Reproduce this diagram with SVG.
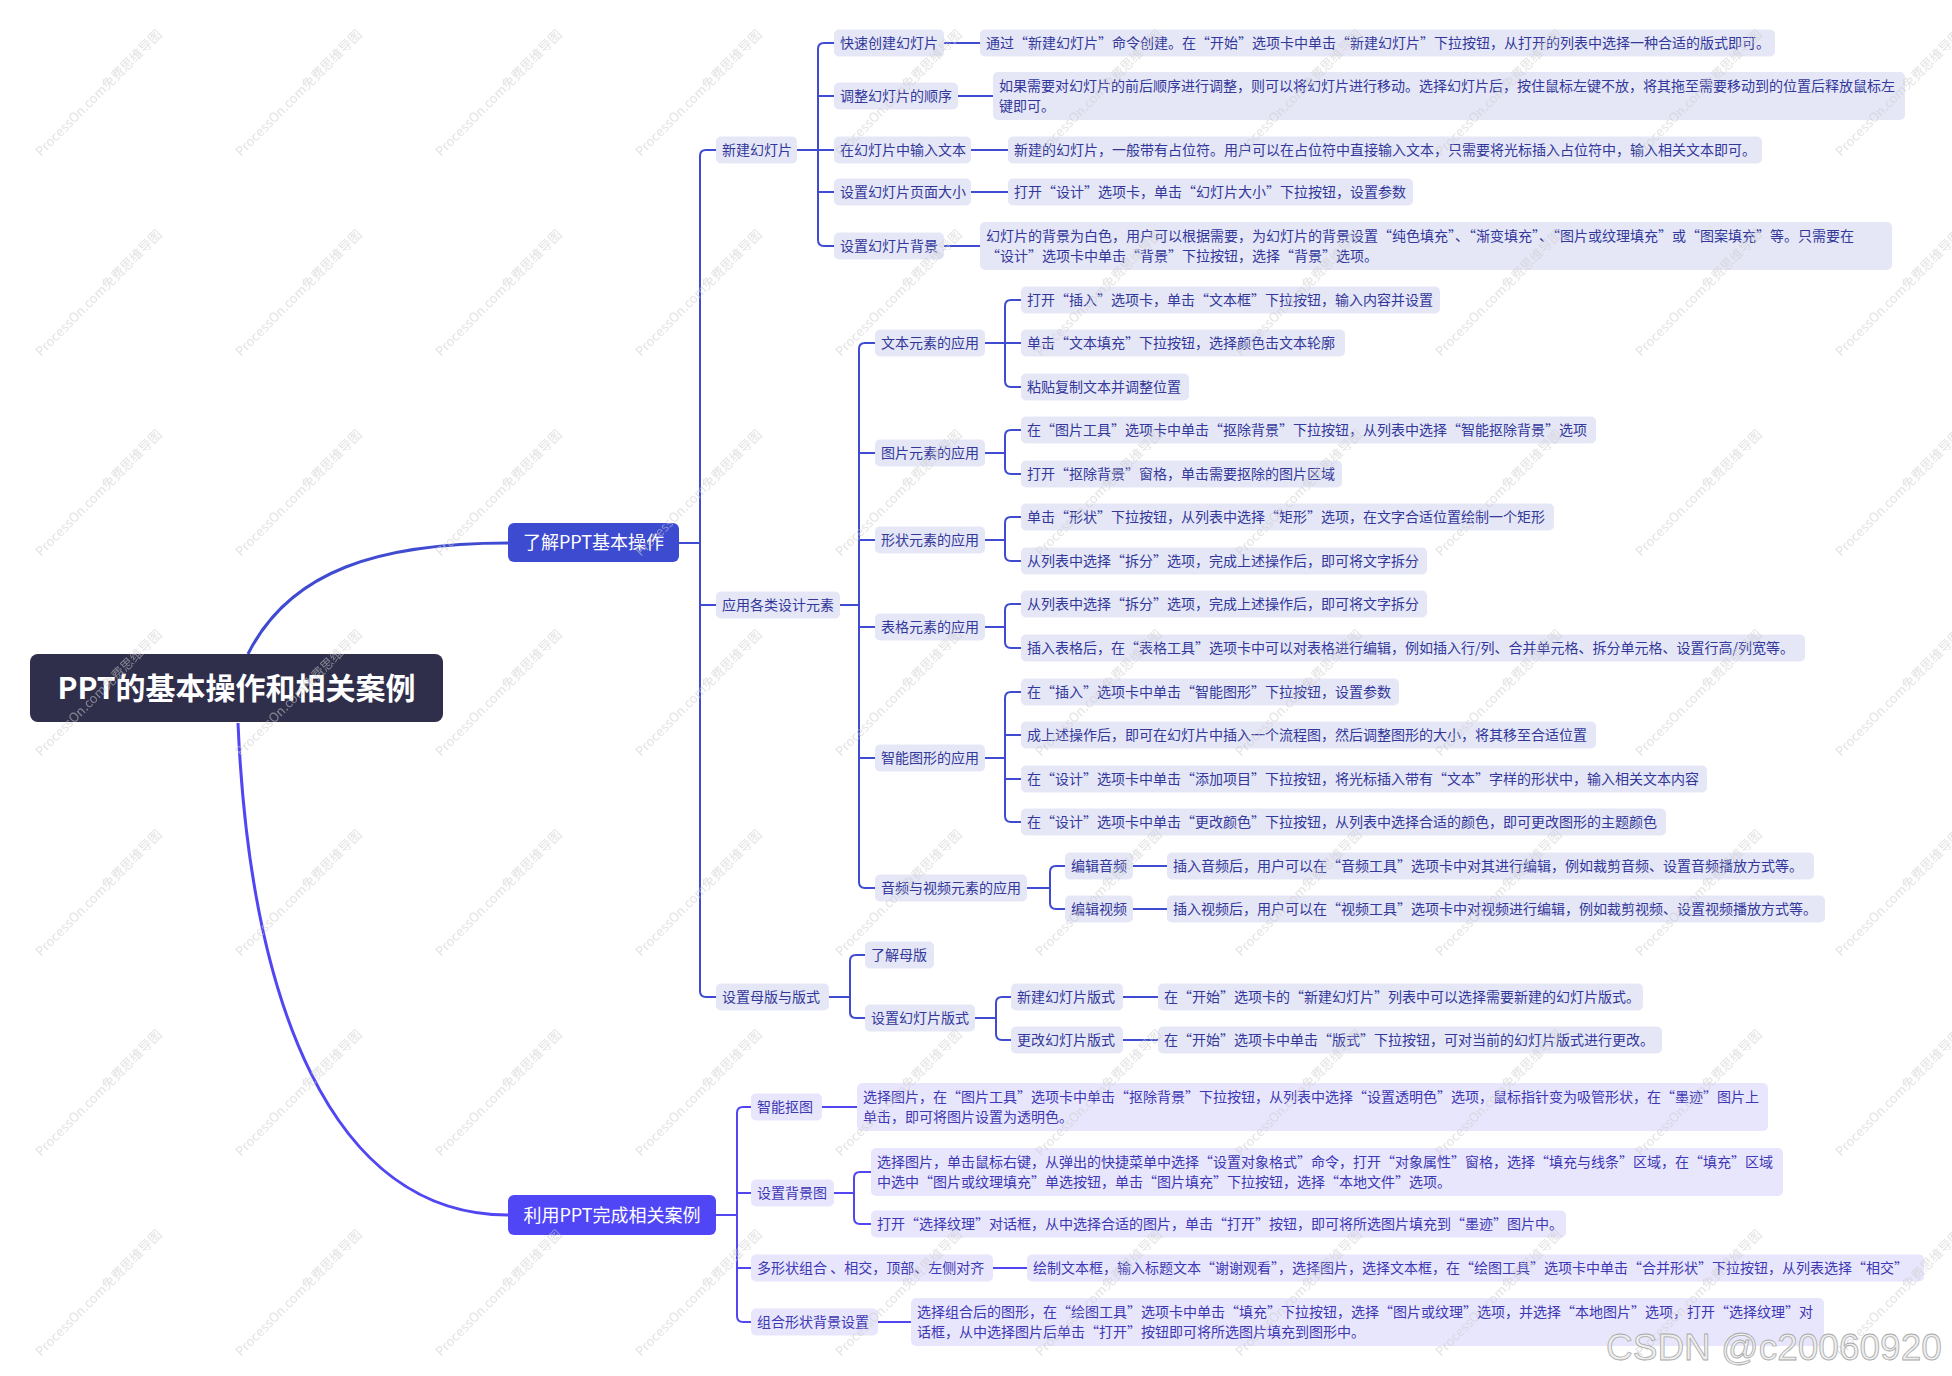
<svg xmlns="http://www.w3.org/2000/svg" width="1952" height="1376" viewBox="0 0 1952 1376">
<style>
text{font-family:"Noto Sans CJK SC","Noto Sans",sans-serif}
.a rect{fill:#e5e7f7}
.b rect{fill:#e8e6fc}
.a text{font-size:14px;fill:#33379a}
.b text{font-size:14px;fill:#3d37b4}
.c1{fill:none;stroke:#3f4bd0;stroke-width:2}
.c2{fill:none;stroke:#5146f2;stroke-width:2}
.wm{font-size:13px;fill:#c9c9c9;fill-opacity:0.55}
.mt{font-size:18px;fill:#ffffff}
</style>
<defs>
<pattern id="wmp" width="200" height="200" patternUnits="userSpaceOnUse">
<text class="wm" x="41" y="157" transform="rotate(-45 41 157)">ProcessOn.com免费思维导图</text>
</pattern>
</defs>
<rect width="1952" height="1376" fill="#ffffff"/>

<g id="connectors">
<path class="c1" style="stroke-width:3" d="M248,654 C290,570 380,543 508,543"/>
<path class="c2" style="stroke-width:3" d="M238,723 C250,1000 330,1215 508,1215"/>
<path class="c1" d="M679,543 H700 M716,150 H706 Q700,150 700,156 V991 Q700,997 706,997 H716 M700,605 H716"/>
<path class="c1" d="M797,150 H818 M834,43 H824 Q818,43 818,49 V240 Q818,246 824,246 H834 M818,96 H834 M818,150 H834 M818,192 H834"/>
<path class="c1" d="M944,43 H980 M958,96 H993 M971,150 H1008 M971,192 H1008 M944,246 H980"/>
<path class="c1" d="M840,605 H859 M875,343 H865 Q859,343 859,349 V882 Q859,888 865,888 H875 M859,453 H875 M859,540 H875 M859,627 H875 M859,758 H875"/>
<path class="c1" d="M985,343 H1005 M1021,300 H1011 Q1005,300 1005,306 V381 Q1005,387 1011,387 H1021 M1005,343 H1021"/>
<path class="c1" d="M985,453 H1005 M1021,430 H1011 Q1005,430 1005,436 V468 Q1005,474 1011,474 H1021"/>
<path class="c1" d="M985,540 H1005 M1021,517 H1011 Q1005,517 1005,523 V555 Q1005,561 1011,561 H1021"/>
<path class="c1" d="M985,627 H1005 M1021,604 H1011 Q1005,604 1005,610 V642 Q1005,648 1011,648 H1021"/>
<path class="c1" d="M985,758 H1005 M1021,692 H1011 Q1005,692 1005,698 V816 Q1005,822 1011,822 H1021 M1005,735 H1021 M1005,779 H1021"/>
<path class="c1" d="M1027,888 H1050 M1065,866 H1056 Q1050,866 1050,872 V903 Q1050,909 1056,909 H1065 M1133,866 H1167 M1133,909 H1167"/>
<path class="c1" d="M829,997 H850 M865,955 H856 Q850,955 850,961 V1012 Q850,1018 856,1018 H865"/>
<path class="c1" d="M975,1018 H996 M1011,997 H1002 Q996,997 996,1003 V1034 Q996,1040 1002,1040 H1011 M1123,997 H1158 M1123,1040 H1158"/>
<path class="c2" d="M716,1215 H737 M751,1107 H743 Q737,1107 737,1113 V1316 Q737,1322 743,1322 H751 M737,1193 H751 M737,1268 H751"/>
<path class="c2" d="M822,1107 H857 M834,1193 H854 M871,1172 H860 Q854,1172 854,1178 V1218 Q854,1224 860,1224 H871 M993,1268 H1027 M878,1322 H911"/>
</g>

<g id="root"><rect x="30" y="654" width="413" height="68" rx="8" fill="#2f2e4b"/><text x="236.5" y="699" text-anchor="middle" style="font-size:30px;font-weight:700;fill:#ffffff">PPT的基本操作和相关案例</text></g>
<g id="b1"><rect x="508" y="523" width="171" height="39" rx="6" fill="#3d4bd0"/><text class="mt" x="593.5" y="549" text-anchor="middle">了解PPT基本操作</text></g>
<g id="b2"><rect x="508" y="1195" width="208" height="40" rx="6" fill="#5046f5"/><text class="mt" x="612" y="1221.5" text-anchor="middle">利用PPT完成相关案例</text></g>

<g class="a">
<g id="n1"><rect x="716" y="136.5" width="81" height="27" rx="5"/><text x="722" y="155">新建幻灯片</text></g>
<g id="n2"><rect x="716" y="591.5" width="124" height="27" rx="5"/><text x="722" y="610">应用各类设计元素</text></g>
<g id="n3"><rect x="716" y="983.5" width="113" height="27" rx="5"/><text x="722" y="1002">设置母版与版式</text></g>

<g id="n1a"><rect x="834" y="29.5" width="110" height="27" rx="5"/><text x="840" y="48">快速创建幻灯片</text></g>
<g id="n1a-t"><rect x="980" y="29.5" width="795" height="27" rx="5"/><text x="986" y="48">通过“新建幻灯片”命令创建。在“开始”选项卡中单击“新建幻灯片”下拉按钮，从打开的列表中选择一种合适的版式即可。</text></g>
<g id="n1b"><rect x="834" y="82.5" width="124" height="27" rx="5"/><text x="840" y="101">调整幻灯片的顺序</text></g>
<g id="n1b-t"><rect x="993" y="72" width="912" height="48" rx="5"/><text x="999" y="91">如果需要对幻灯片的前后顺序进行调整，则可以将幻灯片进行移动。选择幻灯片后，按住鼠标左键不放，将其拖至需要移动到的位置后释放鼠标左</text><text x="999" y="111">键即可。</text></g>
<g id="n1c"><rect x="834" y="136.5" width="137" height="27" rx="5"/><text x="840" y="155">在幻灯片中输入文本</text></g>
<g id="n1c-t"><rect x="1008" y="136.5" width="754" height="27" rx="5"/><text x="1014" y="155">新建的幻灯片，一般带有占位符。用户可以在占位符中直接输入文本，只需要将光标插入占位符中，输入相关文本即可。</text></g>
<g id="n1d"><rect x="834" y="178.5" width="137" height="27" rx="5"/><text x="840" y="197">设置幻灯片页面大小</text></g>
<g id="n1d-t"><rect x="1008" y="178.5" width="405" height="27" rx="5"/><text x="1014" y="197">打开“设计”选项卡，单击“幻灯片大小”下拉按钮，设置参数</text></g>
<g id="n1e"><rect x="834" y="232.5" width="110" height="27" rx="5"/><text x="840" y="251">设置幻灯片背景</text></g>
<g id="n1e-t"><rect x="980" y="222" width="912" height="48" rx="5"/><text x="986" y="241">幻灯片的背景为白色，用户可以根据需要，为幻灯片的背景设置“纯色填充”、“渐变填充”、“图片或纹理填充”或“图案填充”等。只需要在</text><text x="986" y="261">“设计”选项卡中单击“背景”下拉按钮，选择“背景”选项。</text></g>

<g id="n2a"><rect x="875" y="329.5" width="110" height="27" rx="5"/><text x="881" y="348">文本元素的应用</text></g>
<g id="n2a1"><rect x="1021" y="286.5" width="419" height="27" rx="5"/><text x="1027" y="305">打开“插入”选项卡，单击“文本框”下拉按钮，输入内容并设置</text></g>
<g id="n2a2"><rect x="1021" y="329.5" width="324" height="27" rx="5"/><text x="1027" y="348">单击“文本填充”下拉按钮，选择颜色击文本轮廓</text></g>
<g id="n2a3"><rect x="1021" y="373.5" width="168" height="27" rx="5"/><text x="1027" y="392">粘贴复制文本并调整位置</text></g>

<g id="n2b"><rect x="875" y="439.5" width="110" height="27" rx="5"/><text x="881" y="458">图片元素的应用</text></g>
<g id="n2b1"><rect x="1021" y="416.5" width="575" height="27" rx="5"/><text x="1027" y="435">在“图片工具”选项卡中单击“抠除背景”下拉按钮，从列表中选择“智能抠除背景”选项</text></g>
<g id="n2b2"><rect x="1021" y="460.5" width="321" height="27" rx="5"/><text x="1027" y="479">打开“抠除背景”窗格，单击需要抠除的图片区域</text></g>

<g id="n2c"><rect x="875" y="526.5" width="110" height="27" rx="5"/><text x="881" y="545">形状元素的应用</text></g>
<g id="n2c1"><rect x="1021" y="503.5" width="533" height="27" rx="5"/><text x="1027" y="522">单击“形状”下拉按钮，从列表中选择“矩形”选项，在文字合适位置绘制一个矩形</text></g>
<g id="n2c2"><rect x="1021" y="547.5" width="406" height="27" rx="5"/><text x="1027" y="566">从列表中选择“拆分”选项，完成上述操作后，即可将文字拆分</text></g>

<g id="n2d"><rect x="875" y="613.5" width="110" height="27" rx="5"/><text x="881" y="632">表格元素的应用</text></g>
<g id="n2d1"><rect x="1021" y="590.5" width="406" height="27" rx="5"/><text x="1027" y="609">从列表中选择“拆分”选项，完成上述操作后，即可将文字拆分</text></g>
<g id="n2d2"><rect x="1021" y="634.5" width="784" height="27" rx="5"/><text x="1027" y="653">插入表格后，在“表格工具”选项卡中可以对表格进行编辑，例如插入行/列、合并单元格、拆分单元格、设置行高/列宽等。</text></g>

<g id="n2e"><rect x="875" y="744.5" width="110" height="27" rx="5"/><text x="881" y="763">智能图形的应用</text></g>
<g id="n2e1"><rect x="1021" y="678.5" width="378" height="27" rx="5"/><text x="1027" y="697">在“插入”选项卡中单击“智能图形”下拉按钮，设置参数</text></g>
<g id="n2e2"><rect x="1021" y="721.5" width="575" height="27" rx="5"/><text x="1027" y="740">成上述操作后，即可在幻灯片中插入一个流程图，然后调整图形的大小，将其移至合适位置</text></g>
<g id="n2e3"><rect x="1021" y="765.5" width="686" height="27" rx="5"/><text x="1027" y="784">在“设计”选项卡中单击“添加项目”下拉按钮，将光标插入带有“文本”字样的形状中，输入相关文本内容</text></g>
<g id="n2e4"><rect x="1021" y="808.5" width="645" height="27" rx="5"/><text x="1027" y="827">在“设计”选项卡中单击“更改颜色”下拉按钮，从列表中选择合适的颜色，即可更改图形的主题颜色</text></g>

<g id="n2f"><rect x="875" y="874.5" width="152" height="27" rx="5"/><text x="881" y="893">音频与视频元素的应用</text></g>
<g id="n2f1"><rect x="1065" y="852.5" width="68" height="27" rx="5"/><text x="1071" y="871">编辑音频</text></g>
<g id="n2f1-t"><rect x="1167" y="852.5" width="647" height="27" rx="5"/><text x="1173" y="871">插入音频后，用户可以在“音频工具”选项卡中对其进行编辑，例如裁剪音频、设置音频播放方式等。</text></g>
<g id="n2f2"><rect x="1065" y="895.5" width="68" height="27" rx="5"/><text x="1071" y="914">编辑视频</text></g>
<g id="n2f2-t"><rect x="1167" y="895.5" width="658" height="27" rx="5"/><text x="1173" y="914">插入视频后，用户可以在“视频工具”选项卡中对视频进行编辑，例如裁剪视频、设置视频播放方式等。</text></g>

<g id="n3a"><rect x="865" y="941.5" width="69" height="27" rx="5"/><text x="871" y="960">了解母版</text></g>
<g id="n3b"><rect x="865" y="1004.5" width="110" height="27" rx="5"/><text x="871" y="1023">设置幻灯片版式</text></g>
<g id="n3b1"><rect x="1011" y="983.5" width="112" height="27" rx="5"/><text x="1017" y="1002">新建幻灯片版式</text></g>
<g id="n3b1-t"><rect x="1158" y="983.5" width="485" height="27" rx="5"/><text x="1164" y="1002">在“开始”选项卡的“新建幻灯片”列表中可以选择需要新建的幻灯片版式。</text></g>
<g id="n3b2"><rect x="1011" y="1026.5" width="112" height="27" rx="5"/><text x="1017" y="1045">更改幻灯片版式</text></g>
<g id="n3b2-t"><rect x="1158" y="1026.5" width="504" height="27" rx="5"/><text x="1164" y="1045">在“开始”选项卡中单击“版式”下拉按钮，可对当前的幻灯片版式进行更改。</text></g>
</g>

<g class="b">
<g id="m1"><rect x="751" y="1093.5" width="71" height="27" rx="5"/><text x="757" y="1112">智能抠图</text></g>
<g id="m1-t"><rect x="857" y="1083" width="911" height="48" rx="5"/><text x="863" y="1102">选择图片，在“图片工具”选项卡中单击“抠除背景”下拉按钮，从列表中选择“设置透明色”选项，鼠标指针变为吸管形状，在“墨迹”图片上</text><text x="863" y="1122">单击，即可将图片设置为透明色。</text></g>
<g id="m2"><rect x="751" y="1179.5" width="83" height="27" rx="5"/><text x="757" y="1198">设置背景图</text></g>
<g id="m2a"><rect x="871" y="1148" width="912" height="48" rx="5"/><text x="877" y="1167">选择图片，单击鼠标右键，从弹出的快捷菜单中选择“设置对象格式”命令，打开“对象属性”窗格，选择“填充与线条”区域，在“填充”区域</text><text x="877" y="1187">中选中“图片或纹理填充”单选按钮，单击“图片填充”下拉按钮，选择“本地文件”选项。</text></g>
<g id="m2b"><rect x="871" y="1210.5" width="695" height="27" rx="5"/><text x="877" y="1229">打开“选择纹理”对话框，从中选择合适的图片，单击“打开”按钮，即可将所选图片填充到“墨迹”图片中。</text></g>
<g id="m3"><rect x="751" y="1254.5" width="242" height="27" rx="5"/><text x="757" y="1273">多形状组合 、相交，顶部、左侧对齐</text></g>
<g id="m3-t"><rect x="1027" y="1254.5" width="897" height="27" rx="5"/><text x="1033" y="1273">绘制文本框，输入标题文本“谢谢观看”，选择图片，选择文本框，在“绘图工具”选项卡中单击“合并形状”下拉按钮，从列表选择“相交”</text></g>
<g id="m4"><rect x="751" y="1308.5" width="127" height="27" rx="5"/><text x="757" y="1327">组合形状背景设置</text></g>
<g id="m4-t"><rect x="911" y="1298" width="913" height="48" rx="5"/><text x="917" y="1317">选择组合后的图形，在“绘图工具”选项卡中单击“填充”下拉按钮，选择“图片或纹理”选项，并选择“本地图片”选项，打开“选择纹理”对</text><text x="917" y="1337">话框，从中选择图片后单击“打开”按钮即可将所选图片填充到图形中。</text></g>
</g>

<rect width="1952" height="1376" fill="url(#wmp)" pointer-events="none"/>
<text x="1606" y="1360" style="font-family:'Liberation Sans',sans-serif;font-size:37px;fill:#eeeeee;stroke:#a8a8a8;stroke-width:0.8">CSDN @c20060920</text>
</svg>
